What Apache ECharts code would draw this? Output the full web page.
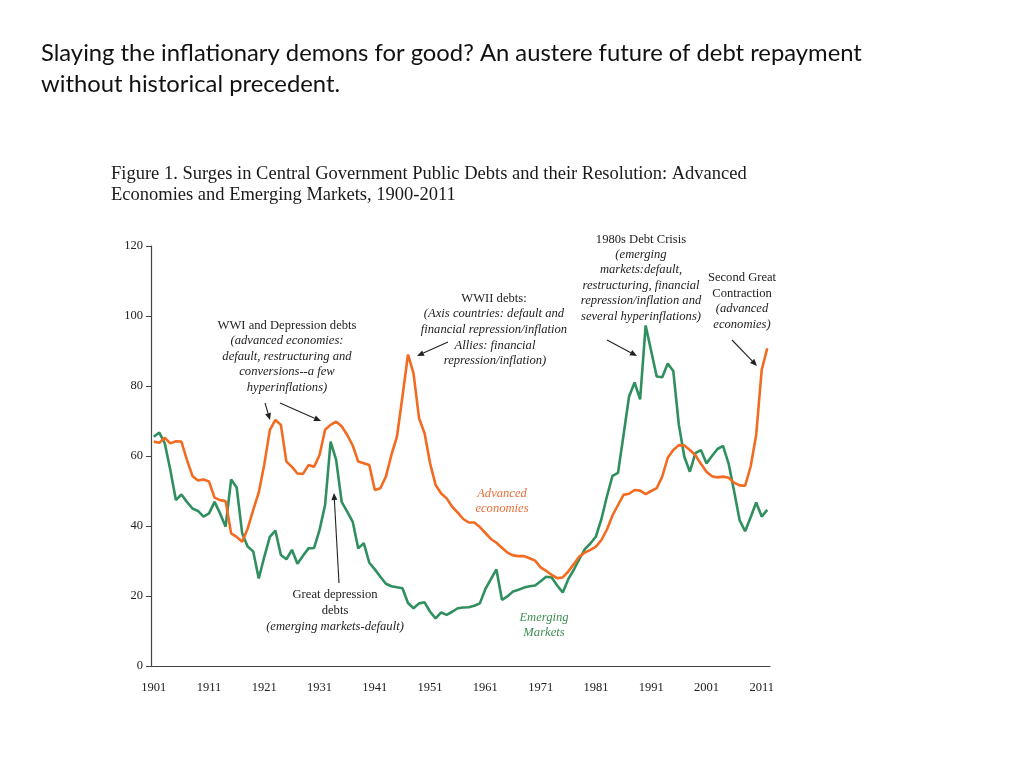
<!DOCTYPE html>
<html><head><meta charset="utf-8">
<script src="https://cdn.jsdelivr.net/npm/echarts@6/dist/echarts.min.js"></script>
<style>html,body{margin:0;padding:0;background:#fff}#c{width:1024px;height:768px}</style>
</head><body><div id="c"></div>
<script>
const years = [
'1901','1902','1903','1904','1905','1906','1907','1908','1909','1910',
'1911','1912','1913','1914','1915','1916','1917','1918','1919','1920',
'1921','1922','1923','1924','1925','1926','1927','1928','1929','1930',
'1931','1932','1933','1934','1935','1936','1937','1938','1939','1940',
'1941','1942','1943','1944','1945','1946','1947','1948','1949','1950',
'1951','1952','1953','1954','1955','1956','1957','1958','1959','1960',
'1961','1962','1963','1964','1965','1966','1967','1968','1969','1970',
'1971','1972','1973','1974','1975','1976','1977','1978','1979','1980',
'1981','1982','1983','1984','1985','1986','1987','1988','1989','1990',
'1991','1992','1993','1994','1995','1996','1997','1998','1999','2000',
'2001','2002','2003','2004','2005','2006','2007','2008','2009','2010',
'2011','2012'];
const xTickLabels = ['1901','1911','1921','1931','1941','1951','1961','1971','1981','1991','2001','2011'];
const yTicks = [0,20,40,60,80,100,120];

const advanced = [
64.1,63.8,65.2,63.6,64.2,64.1,58.9,54.3,53.0,53.3,
52.7,48.1,47.4,47.1,37.9,36.9,35.5,39.3,44.6,49.6,
57.6,67.4,70.3,68.9,58.4,56.9,55.0,54.9,57.4,56.9,
60.3,67.5,68.9,69.8,68.5,66.0,63.0,58.4,57.9,57.4,
50.3,50.8,54.1,60.3,65.5,77.0,89.0,83.6,70.8,66.5,
57.9,51.7,49.3,47.9,45.5,43.8,42.0,41.0,41.0,39.7,
38.0,36.3,35.2,33.8,32.4,31.6,31.4,31.4,30.8,30.1,
28.2,27.2,26.0,25.1,25.3,27.0,29.1,31.3,32.4,33.2,
34.1,36.0,39.0,43.0,46.0,48.9,49.2,50.3,50.1,49.1,
50.0,50.8,54.1,59.5,61.7,63.1,63.0,61.7,60.2,57.8,
55.5,54.2,53.9,54.1,53.8,52.4,51.6,51.5,57.0,66.0,
84.6,90.8];
const emerging = [
65.5,66.7,63.6,56.0,47.4,49.0,46.9,45.0,44.3,42.7,
43.6,46.9,43.6,39.8,53.3,51.0,37.9,34.1,32.7,25.0,
31.2,36.9,38.7,31.7,30.5,33.2,29.2,31.5,33.6,33.7,
38.9,46.0,64.1,58.9,46.9,44.1,41.2,33.6,35.1,29.5,
27.6,25.5,23.5,22.8,22.5,22.2,18.0,16.5,17.9,18.2,
15.5,13.6,15.3,14.6,15.5,16.5,16.7,16.8,17.2,17.9,
22.0,24.8,27.6,18.9,19.9,21.3,21.8,22.4,22.8,23.0,
24.2,25.5,25.3,23.0,21.0,24.8,27.5,30.5,33.4,35.0,
37.0,42.0,48.5,54.3,55.2,66.0,77.0,81.0,76.2,97.3,
90.0,82.7,82.5,86.4,84.3,69.0,59.8,55.5,60.8,61.7,
57.9,60.0,62.0,62.9,57.9,50.0,41.7,38.5,42.5,46.7,
42.7,44.6];

const ORANGE = '#F26B21', GREEN = '#2F8F5E';
const SERIF = '"Liberation Serif", "DejaVu Serif", serif';
const ANN = 12.6;

function txt(text, x, y, opts) {
  opts = opts || {};
  return {type:'text', silent:true, style:{text:text, x:x, y:y,
    font:(opts.italic?'italic ':'') + (opts.size||ANN) + 'px ' + (opts.family||SERIF),
    fill:opts.color||'#222', textAlign:opts.align||'center', textVerticalAlign:'middle'}};
}
function arrow(x1,y1,x2,y2){
  const a = Math.atan2(y2-y1,x2-x1), L=7, W=3;
  const bx = x2 - L*Math.cos(a), by = y2 - L*Math.sin(a);
  const px = -Math.sin(a)*W, py = Math.cos(a)*W;
  return [
    {type:'line', silent:true, shape:{x1:x1,y1:y1,x2:bx,y2:by}, style:{stroke:'#222', lineWidth:1.1}},
    {type:'polygon', silent:true, shape:{points:[[x2,y2],[bx+px,by+py],[bx-px,by-py]]}, style:{fill:'#222'}}
  ];
}

const graphics = [
  txt('Slaying the inflationary demons for good? An austere future of debt repayment', 41, 53, {size:23.8, family:'Lato, "Open Sans", sans-serif', align:'left', color:'#111'}),
  txt('without historical precedent.', 41, 84, {size:23.8, family:'Lato, "Open Sans", sans-serif', align:'left', color:'#111'}),
  txt('Figure 1. Surges in Central Government Public Debts and their Resolution: Advanced', 111, 174, {size:18.5, align:'left', color:'#1a1a1a'}),
  txt('Economies and Emerging Markets, 1900-2011', 111, 195, {size:18.5, align:'left', color:'#1a1a1a'}),

  txt('WWI and Depression debts', 287, 326),
  txt('(advanced economies:', 287, 341, {italic:true}),
  txt('default, restructuring and', 287, 357, {italic:true}),
  txt('conversions--a few', 287, 372, {italic:true}),
  txt('hyperinflations)', 287, 388, {italic:true}),

  txt('WWII debts:', 494, 299),
  txt('(Axis countries: default and', 494, 314, {italic:true}),
  txt('financial repression/inflation', 494, 330, {italic:true}),
  txt('Allies: financial', 495, 346, {italic:true}),
  txt('repression/inflation)', 495, 361, {italic:true}),

  txt('1980s Debt Crisis', 641, 240),
  txt('(emerging', 641, 255, {italic:true}),
  txt('markets:default,', 641, 270, {italic:true}),
  txt('restructuring, financial', 641, 286, {italic:true}),
  txt('repression/inflation and', 641, 301, {italic:true}),
  txt('several hyperinflations)', 641, 317, {italic:true}),

  txt('Second Great', 742, 278),
  txt('Contraction', 742, 294),
  txt('(advanced', 742, 309, {italic:true}),
  txt('economies)', 742, 325, {italic:true}),

  txt('Great depression', 335, 595),
  txt('debts', 335, 611),
  txt('(emerging markets-default)', 335, 627, {italic:true}),

  txt('Advanced', 502, 494, {italic:true, color:'#E8703A'}),
  txt('economies', 502, 509, {italic:true, color:'#E8703A'}),
  txt('Emerging', 544, 618, {italic:true, color:'#3E8E55'}),
  txt('Markets', 544, 633, {italic:true, color:'#3E8E55'})
].concat(
  arrow(265,403,270,420),
  arrow(280,403,321,421),
  arrow(448,342,417,356),
  arrow(339,583,334,493),
  arrow(607,340,637,356),
  arrow(732,340,757,366)
);

const chart = echarts.init(document.getElementById('c'), null, {renderer:'canvas'});
chart.setOption({
  animation:false,
  backgroundColor:'#fff',
  grid:{left:151, top:246, width:619, height:420, containLabel:false},
  xAxis:{
    type:'category', data:years, boundaryGap:true,
    axisLine:{lineStyle:{color:'#444', width:1.2}},
    axisTick:{inside:true, length:4, interval:0, lineStyle:{color:'#444', width:1}},
    axisLabel:{interval:0, margin:15, color:'#222', fontFamily:SERIF, fontSize:12.5,
      formatter:function(v){ return xTickLabels.indexOf(v) >= 0 ? v : ''; }},
    splitLine:{show:false}
  },
  yAxis:{
    type:'value', min:yTicks[0], max:yTicks[yTicks.length-1], interval:20,
    axisLine:{show:true, lineStyle:{color:'#444', width:1.2}},
    axisTick:{show:true, length:5, lineStyle:{color:'#444'}},
    axisLabel:{margin:8, color:'#222', fontFamily:SERIF, fontSize:12.5},
    splitLine:{show:false}
  },
  series:[
    {name:'Advanced economies', type:'line', data:advanced, showSymbol:false, symbol:'none',
      lineStyle:{color:ORANGE, width:2.6}, z:3},
    {name:'Emerging Markets', type:'line', data:emerging, showSymbol:false, symbol:'none',
      lineStyle:{color:GREEN, width:2.6}, z:2}
  ],
  graphic:graphics
});
</script></body></html>
